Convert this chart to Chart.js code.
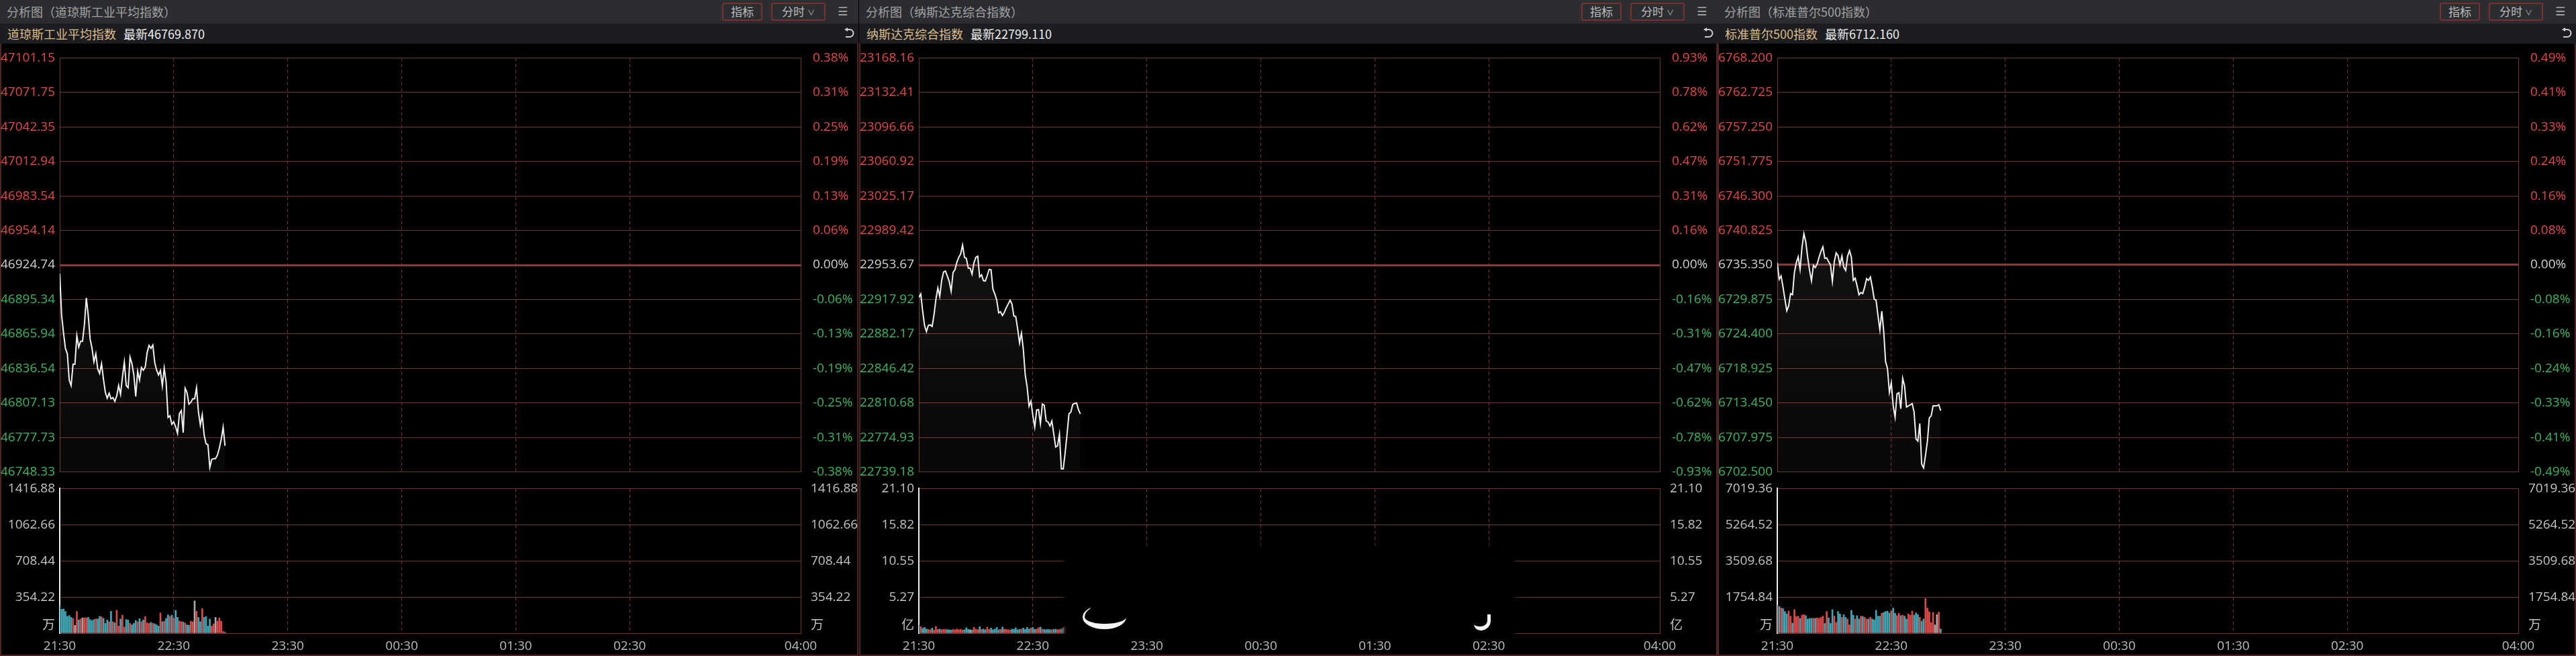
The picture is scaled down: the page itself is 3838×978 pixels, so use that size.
<!DOCTYPE html>
<html>
<head>
<meta charset="utf-8">
<script src="https://cdn.jsdelivr.net/npm/chart.js@4.4.1/dist/chart.umd.min.js"></script>
<style>
html,body{margin:0;padding:0;background:#000;}
body{width:3838px;height:978px;position:relative;overflow:hidden;font-family:"Noto Sans CJK SC","Noto Sans",sans-serif;}
.panel{position:absolute;top:0;width:1279px;height:978px;}
.hdr{position:absolute;left:0;top:0;width:100%;height:35px;background:#2c2d31;}
.ttl{position:absolute;left:10px;top:0;line-height:35px;font-size:18px;color:#a2a2a2;white-space:nowrap;}
.btn{position:absolute;top:4px;height:27px;box-sizing:border-box;border:2px solid #7a3030;border-radius:3px;color:#bcbcbc;font-size:17px;line-height:22px;text-align:center;background:#2c2d31;}
.menu{position:absolute;left:1248px;top:0;line-height:35px;font-size:17px;color:#a8a8a8;font-family:"DejaVu Sans";}
.sub{position:absolute;left:0;top:35px;width:100%;height:30px;background:#1c1d20;}
.nm{position:absolute;left:11px;top:0;line-height:30px;font-size:18px;white-space:nowrap;}
.nm b{font-weight:normal;color:#dcbb8c;}
.nm span{color:#ececec;margin-left:11px;}
.back{position:absolute;left:1256px;top:6px;}
.box{position:absolute;left:0;top:65px;width:100%;height:913px;box-sizing:border-box;border:2px solid #4e2424;border-top:none;}
canvas{position:absolute;left:0;}
.smudge{position:absolute;left:309px;top:818px;width:664px;height:128px;background:#000;box-shadow:0 0 6px 4px #000;}
.moon1{position:absolute;left:333px;top:902px;width:62px;height:28px;border-bottom:8px solid #f4f4f4;border-left:3px solid #f4f4f4;border-radius:50%;}
.moon2{position:absolute;left:916px;top:916px;width:20px;height:18px;border-bottom:6px solid #f4f4f4;border-right:5px solid #f4f4f4;border-radius:0 0 60% 40%;}
</style>
</head>
<body>
<script>
// time axis: minutes after 21:30
const timeTicks = [0, 60, 120, 180, 240, 300, 390];
const timeLabels = ['21:30', '22:30', '23:30', '00:30', '01:30', '02:30', '04:00'];

// 道琼斯工业平均指数
const djiPrice = [
  46917.3, 46881.8, 46866.8, 46853.7, 46849.1, 46826.6, 46822.0, 46840.1, 46840.1, 46864.6,
  46854.7, 46859.7, 46859.7, 46874.3, 46896.7, 46881.8, 46861.6, 46853.7, 46842.1, 46849.1,
  46836.0, 46832.2, 46840.6, 46827.6, 46816.3, 46811.1, 46815.4, 46810.7, 46811.7, 46808.5,
  46813.2, 46822.0, 46814.5, 46829.4, 46841.9, 46822.0, 46820.1, 46846.2, 46840.6, 46831.3,
  46812.6, 46834.1, 46826.6, 46837.3, 46835.0, 46837.8, 46850.0, 46856.2, 46853.7, 46856.5,
  46841.6, 46835.0, 46830.9, 46834.7, 46821.6, 46836.9, 46824.8, 46794.8, 46796.2, 46788.9,
  46791.1, 46786.8, 46781.2, 46798.0, 46800.5, 46781.8, 46819.7, 46816.0, 46806.1, 46807.6,
  46810.7, 46810.7, 46820.1, 46799.5, 46788.3, 46797.1, 46779.9, 46772.4, 46771.5, 46752.2,
  46759.0, 46759.7, 46759.7, 46762.7, 46768.7, 46776.2, 46786.4, 46770.6
];
const djiVol = [
  273, 235, 237, 213, 166, 173, 156, 145, 77, 213,
  130, 139, 150, 151, 151, 156, 134, 124, 134, 140,
  139, 166, 160, 145, 96, 130, 113, 215, 113, 102,
  224, 70, 139, 177, 60, 134, 130, 96, 81, 96,
  124, 113, 143, 113, 130, 164, 102, 96, 107, 96,
  92, 81, 70, 198, 113, 117, 145, 181, 166, 177,
  145, 224, 156, 120, 113, 109, 100, 81, 79, 117,
  113, 316, 215, 156, 113, 241, 156, 164, 70, 139,
  70, 92, 156, 117, 150, 120, 17, 10
];
const djiPriceLabels = ['47101.15', '47071.75', '47042.35', '47012.94', '46983.54', '46954.14', '46924.74',
  '46895.34', '46865.94', '46836.54', '46807.13', '46777.73', '46748.33'];
const djiPctLabels = ['0.38%', '0.31%', '0.25%', '0.19%', '0.13%', '0.06%', '0.00%',
  '-0.06%', '-0.13%', '-0.19%', '-0.25%', '-0.31%', '-0.38%'];
const djiVolTicks = [1416.88, 1062.66, 708.44, 354.22, 0];
const djiVolLabels = ['1416.88', '1062.66', '708.44', '354.22', '万'];

// 纳斯达克综合指数
const ixicPrice = [
  22920.0, 22923.6, 22905.9, 22891.1, 22884.7, 22891.1, 22891.5, 22889.9, 22902.4, 22918.4,
  22929.8, 22921.1, 22937.7, 22946.4, 22947.3, 22942.3, 22936.6, 22926.4, 22945.7, 22948.7,
  22956.4, 22961.6, 22965.1, 22974.2, 22961.6, 22960.5, 22950.3, 22950.3, 22944.1, 22956.0,
  22961.6, 22962.8, 22941.2, 22943.4, 22937.3, 22937.1, 22942.7, 22949.1, 22948.7, 22928.6,
  22923.6, 22917.2, 22904.0, 22905.2, 22901.3, 22904.7, 22909.3, 22913.1, 22917.2, 22913.1,
  22900.8, 22900.2, 22887.6, 22872.8, 22883.1, 22866.0, 22839.8, 22827.3, 22807.3, 22812.5,
  22797.7, 22785.6, 22803.4, 22803.8, 22789.3, 22809.5, 22808.4, 22792.0, 22790.9, 22786.8,
  22792.0, 22778.8, 22765.1, 22766.3, 22778.3, 22742.4, 22742.4, 22759.0, 22778.3, 22799.3,
  22801.1, 22809.1, 22810.2, 22810.7, 22803.8, 22799.3
];
const ixicVol = [
  1.20, 0.95, 0.70, 0.85, 0.60, 0.55, 0.50, 0.75, 0.45, 1.00,
  0.55, 0.60, 0.50, 0.55, 0.55, 0.50, 0.50, 0.45, 0.55, 0.50,
  0.60, 0.50, 0.55, 0.45, 0.50, 0.80, 0.55, 0.50, 0.45, 0.85,
  0.60, 0.50, 0.95, 0.55, 0.60, 0.50, 0.90, 0.55, 0.75, 0.50,
  0.60, 0.85, 0.50, 0.55, 0.90, 0.60, 0.55, 0.50, 0.45, 0.60,
  0.55, 0.80, 0.50, 0.55, 0.60, 0.75, 0.55, 0.85, 0.60, 0.75,
  0.85, 0.55, 0.60, 0.80, 0.90, 0.60, 0.55, 0.50, 0.55, 0.50,
  0.50, 0.55, 0.60, 0.50, 0.55, 0.60, 0.80, 0.95, 0.70, 0.55,
  0.60, 0.90, 0.55, 0.65, 0.45, 0.30
];
const ixicPriceLabels = ['23168.16', '23132.41', '23096.66', '23060.92', '23025.17', '22989.42', '22953.67',
  '22917.92', '22882.17', '22846.42', '22810.68', '22774.93', '22739.18'];
const ixicPctLabels = ['0.93%', '0.78%', '0.62%', '0.47%', '0.31%', '0.16%', '0.00%',
  '-0.16%', '-0.31%', '-0.47%', '-0.62%', '-0.78%', '-0.93%'];
const ixicVolTicks = [21.10, 15.82, 10.55, 5.27, 0];
const ixicVolLabels = ['21.10', '15.82', '10.55', '5.27', '亿'];

// 标准普尔500指数
const spxPrice = [
  6735.70, 6733.08, 6733.60, 6731.86, 6729.93, 6728.08, 6728.89, 6730.81, 6730.63, 6734.13,
  6735.70, 6736.64, 6734.65, 6738.15, 6740.31, 6739.02, 6736.57, 6734.48, 6732.83, 6735.28,
  6734.93, 6735.52, 6736.57, 6737.52, 6738.22, 6736.40, 6736.47, 6735.87, 6735.35, 6732.73,
  6735.87, 6737.27, 6736.82, 6735.35, 6736.75, 6735.00, 6734.48, 6736.75, 6737.62, 6736.57,
  6732.90, 6733.25, 6732.03, 6730.63, 6730.98, 6730.81, 6731.86, 6733.18, 6732.90, 6733.43,
  6731.86, 6729.93, 6729.76, 6727.31, 6725.04, 6728.01, 6724.87, 6719.98, 6718.93, 6715.15,
  6716.66, 6712.99, 6711.17, 6714.91, 6715.08, 6712.53, 6717.36, 6716.13, 6712.81, 6712.99,
  6713.16, 6713.34, 6712.01, 6707.75, 6707.40, 6710.19, 6703.73, 6703.14, 6705.13, 6707.33,
  6711.07, 6711.42, 6712.99, 6712.99, 6712.99, 6713.16, 6712.22
];
const spxVol = [
  1353, 1300, 1226, 1194, 1057, 930, 1068, 824, 497, 1142,
  814, 824, 719, 877, 898, 856, 687, 719, 719, 719,
  719, 740, 719, 772, 824, 476, 1057, 750, 476, 1142,
  824, 529, 1057, 930, 772, 898, 772, 687, 402, 1110,
  877, 687, 856, 687, 824, 814, 772, 687, 687, 772,
  687, 645, 1110, 824, 824, 962, 1004, 1057, 1068, 983,
  1089, 1216, 962, 856, 962, 856, 877, 824, 687, 930,
  877, 1068, 877, 983, 898, 772, 581, 687, 1691, 1216,
  1036, 507, 1004, 402, 898, 1025, 211
];
const spxPriceLabels = ['6768.200', '6762.725', '6757.250', '6751.775', '6746.300', '6740.825', '6735.350',
  '6729.875', '6724.400', '6718.925', '6713.450', '6707.975', '6702.500'];
const spxPctLabels = ['0.49%', '0.41%', '0.33%', '0.24%', '0.16%', '0.08%', '0.00%',
  '-0.08%', '-0.16%', '-0.24%', '-0.33%', '-0.41%', '-0.49%'];
const spxVolTicks = [7019.36, 5264.52, 3509.68, 1754.84, 0];
const spxVolLabels = ['7019.36', '5264.52', '3509.68', '1754.84', '万'];

const panels = [
  {left: 0, title: '道琼斯工业平均指数', last: '46769.870', price: djiPrice, vol: djiVol,
    priceLabels: djiPriceLabels, pctLabels: djiPctLabels, volTicks: djiVolTicks, volLabels: djiVolLabels},
  {left: 1280, title: '纳斯达克综合指数', last: '22799.110', price: ixicPrice, vol: ixicVol,
    priceLabels: ixicPriceLabels, pctLabels: ixicPctLabels, volTicks: ixicVolTicks, volLabels: ixicVolLabels, smudge: true},
  {left: 2559, title: '标准普尔500指数', last: '6712.160', price: spxPrice, vol: spxVol,
    priceLabels: spxPriceLabels, pctLabels: spxPctLabels, volTicks: spxVolTicks, volLabels: spxVolLabels}
];

const RED = '#e24a4a';
const GREEN = '#3cb462';
const GRAY = '#d0d0d0';
const GRID = '#723232';
const MIDLINE = '#853b3b';
const BAR_UP = '#dc4a4a';
const BAR_DOWN = '#42a6b5';
const BAR_FLAT = '#a8a8a8';
const tickFont = {family: '"Open Sans", "Noto Sans CJK SC", sans-serif', size: 19};

function setTicks(values){
    return function(scale){
        scale.ticks = values.slice().sort((a, b) => a - b).map(v => ({value: v}));
    };
}

function makePanel(p){
    const div = document.createElement('div');
    div.className = 'panel';
    div.style.left = p.left + 'px';
    div.innerHTML =
        '<div class="hdr"><div class="ttl">分析图（' + p.title + '）</div>' +
        '<div class="btn" style="left:1076px;width:60px">指标</div>' +
        '<div class="btn" style="left:1149px;width:81px">分时 <span style="font-size:11px;vertical-align:1px">∨</span></div>' +
        '<div class="menu">☰</div></div>' +
        '<div class="sub"><div class="nm"><b>' + p.title + '</b><span>最新' + p.last + '</span></div>' +
        '<svg class="back" width="18" height="18" viewBox="0 0 18 18"><path d="M6 3 H10 A5.5 5.5 0 0 1 10 14 H4" fill="none" stroke="#cfcfcf" stroke-width="2"/>' +
        '<path d="M7 0 L2 3 L7 6 Z" fill="#cfcfcf"/></svg></div>' +
        '<div class="box"></div>';
    document.body.appendChild(div);

    // price chart
    const cv = document.createElement('canvas');
    cv.width = 1279; cv.height = 660;
    cv.style.top = '65px';
    div.appendChild(cv);

    // volume chart
    const cv2 = document.createElement('canvas');
    cv2.width = 1279; cv2.height = 266;
    cv2.style.top = '710px';
    div.appendChild(cv2);

    if(p.smudge){
        div.insertAdjacentHTML('beforeend', '<div class="smudge"></div><div class="moon1"></div><div class="moon2"></div>');
    }

    const priceTicks = p.priceLabels.map(parseFloat);
    const prevClose = priceTicks[6];
    const priceAsc = p.priceLabels.slice().reverse();
    const pctAsc = p.pctLabels.slice().reverse();
    const pMin = Math.min(...priceTicks), pMax = Math.max(...priceTicks);
    const labelColor = (c) => c.index < 6 ? GREEN : (c.index === 6 ? GRAY : RED);
    const xGridColor = (c) => (c.index === 0 || c.index === timeTicks.length - 1) ? 'rgba(0,0,0,0)' : GRID;

    new Chart(cv, {
        type: 'line',
        data: {
            datasets: [{
                data: p.price.map((v, i) => ({x: i, y: v})),
                borderColor: '#f2f2f2',
                borderWidth: 2,
                pointRadius: 0,
                tension: 0,
                fill: 'start',
                backgroundColor: (c) => {
                    const area = c.chart.chartArea;
                    if(!area) return 'rgba(255,255,255,0.06)';
                    const g = c.chart.ctx.createLinearGradient(0, area.top, 0, area.bottom);
                    g.addColorStop(0, 'rgba(255,255,255,0.10)');
                    g.addColorStop(1, 'rgba(255,255,255,0.03)');
                    return g;
                }
            }]
        },
        options: {
            responsive: false,
            animation: false,
            events: [],
            layout: {padding: {top: 16, bottom: 19, left: 0, right: 0}},
            plugins: {legend: {display: false}, tooltip: {enabled: false}},
            scales: {
                x: {
                    type: 'linear', min: 0, max: 390,
                    afterBuildTicks: setTicks(timeTicks),
                    afterFit: (s) => { s.height = 0; },
                    ticks: {display: false},
                    grid: {drawTicks: false, color: xGridColor, lineWidth: 1},
                    border: {display: false, dash: [5, 4]}
                },
                y: {
                    position: 'left', min: pMin, max: pMax,
                    afterBuildTicks: setTicks(priceTicks),
                    afterFit: (s) => { s.width = 89; },
                    ticks: {padding: 7, font: tickFont, color: labelColor, autoSkip: false,
                        callback: (v, i) => priceAsc[i]},
                    grid: {drawTicks: false, color: (c) => c.index === 6 ? MIDLINE : GRID,
                        lineWidth: (c) => c.index === 6 ? 3 : 1},
                    border: {color: GRID, width: 1}
                },
                yr: {
                    position: 'right', min: pMin, max: pMax,
                    afterBuildTicks: setTicks(priceTicks),
                    afterFit: (s) => { s.width = 86; },
                    ticks: {padding: 10, font: tickFont, color: labelColor, autoSkip: false,
                        callback: (v, i) => pctAsc[i]},
                    grid: {display: false},
                    border: {color: GRID, width: 1}
                }
            }
        }
    });

    // bar colour follows the minute's price move
    const barColors = p.price.map((v, i) => {
        const prev = i === 0 ? prevClose : p.price[i - 1];
        return v > prev ? BAR_UP : (v < prev ? BAR_DOWN : BAR_FLAT);
    });
    const volAsc = p.volLabels.slice().reverse().map(l => /[万亿]/.test(l) ? [l, ''] : l);
    const vMax = Math.max(...p.volTicks);

    new Chart(cv2, {
        type: 'bar',
        data: {
            datasets: [{
                data: p.vol.map((v, i) => ({x: i, y: v})),
                backgroundColor: barColors,
                barThickness: 2,
                borderWidth: 0
            }]
        },
        options: {
            responsive: false,
            animation: false,
            events: [],
            layout: {padding: {top: 13, bottom: 0, left: 0, right: 0}},
            plugins: {legend: {display: false}, tooltip: {enabled: false}},
            scales: {
                x: {
                    type: 'linear', min: 0, max: 390, offset: false,
                    afterBuildTicks: setTicks(timeTicks),
                    afterFit: (s) => { s.height = 32; },
                    ticks: {padding: 8, font: tickFont, color: '#bdbdbd', maxRotation: 0, autoSkip: false,
                        callback: (v, i) => timeLabels[i]},
                    grid: {offset: false, drawTicks: false, color: xGridColor, lineWidth: 1},
                    border: {display: false, dash: [5, 4]}
                },
                y: {
                    position: 'left', min: 0, max: vMax,
                    afterBuildTicks: setTicks(p.volTicks),
                    afterFit: (s) => { s.width = 89; },
                    ticks: {padding: 7, font: tickFont, color: '#c4c4c4', autoSkip: false,
                        callback: (v, i) => volAsc[i]},
                    grid: {drawTicks: false, color: GRID, lineWidth: 1},
                    border: {color: '#eeeeee', width: 2}
                },
                yr: {
                    position: 'right', min: 0, max: vMax,
                    afterBuildTicks: setTicks(p.volTicks),
                    afterFit: (s) => { s.width = 86; },
                    ticks: {padding: 7, font: tickFont, color: '#c4c4c4', autoSkip: false,
                        callback: (v, i) => volAsc[i]},
                    grid: {display: false},
                    border: {color: GRID, width: 1}
                }
            }
        }
    });
}

panels.forEach(makePanel);
</script>
</body>
</html>
